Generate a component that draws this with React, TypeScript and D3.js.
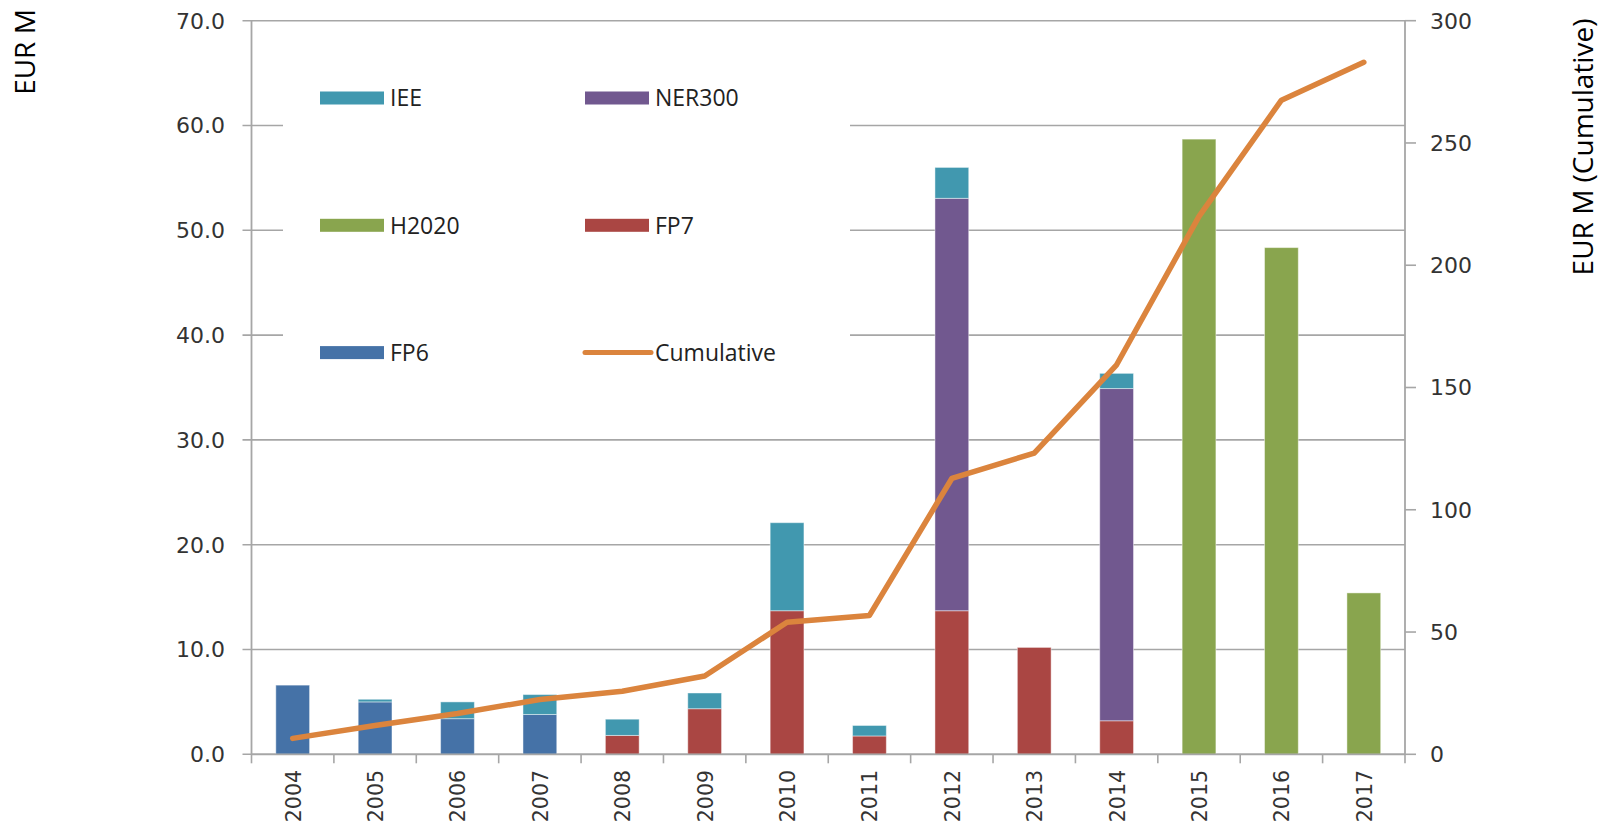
import React from "react";
import * as d3 from "d3";

// years on the category axis
const years = ["2004", "2005", "2006", "2007", "2008", "2009", "2010", "2011", "2012", "2013", "2014", "2015", "2016", "2017"];

// EUR M per programme
const fp6 = [6.6, 5.0, 3.4, 3.8, 0, 0, 0, 0, 0, 0, 0, 0, 0, 0];
const fp7 = [0, 0, 0, 0, 1.8, 4.35, 13.7, 1.75, 13.7, 10.2, 3.2, 0, 0, 0];
const h2020 = [0, 0, 0, 0, 0, 0, 0, 0, 0, 0, 0, 58.7, 48.35, 15.4];
const ner300 = [0, 0, 0, 0, 0, 0, 0, 0, 39.35, 0, 31.7, 0, 0, 0];
const iee = [0, 0.25, 1.6, 1.9, 1.55, 1.5, 8.4, 1.0, 2.95, 0, 1.45, 0, 0, 0];
const cumulative = [6.5, 11.8, 16.7, 22.4, 25.8, 32.0, 54.0, 56.8, 112.8, 123.2, 159.3, 220.0, 267.5, 283.0];

const leftTicks = [0, 10, 20, 30, 40, 50, 60, 70];
const rightTicks = [0, 50, 100, 150, 200, 250, 300];

const series = [
  { key: "FP6", values: fp6, color: "#4572a7" },
  { key: "FP7", values: fp7, color: "#aa4643" },
  { key: "H2020", values: h2020, color: "#89a54e" },
  { key: "NER300", values: ner300, color: "#71588f" },
  { key: "IEE", values: iee, color: "#4198af" },
];

const legendItems = [
  { label: "IEE", color: "#4198af", col: 0, row: 0 },
  { label: "NER300", color: "#71588f", col: 1, row: 0 },
  { label: "H2020", color: "#89a54e", col: 0, row: 1 },
  { label: "FP7", color: "#aa4643", col: 1, row: 1 },
  { label: "FP6", color: "#4572a7", col: 0, row: 2 },
  { label: "Cumulative", color: "#db843d", col: 1, row: 2, line: true },
];

const W = 1610;
const H = 826;
const left = 251.5;
const right = 1405;
const top = 20.7;
const bottom = 754.3;
const grid = "#a6a6a6";
const tickFont = "'DejaVu Sans', Verdana, sans-serif";
const textFont = "'Open Sans', 'Noto Sans', sans-serif";

export default function App() {
  const x = d3.scaleBand().domain(years).range([left, right]).paddingInner(0.59).paddingOuter(0.295);
  const step = x.step();
  const y = d3.scaleLinear().domain([0, 70]).range([bottom, top]);
  const yR = d3.scaleLinear().domain([0, 300]).range([bottom, top]);

  const rows = years.map((yr, i) => {
    const r: any = { year: yr };
    series.forEach((s) => (r[s.key] = s.values[i]));
    return r;
  });
  const stacked = d3.stack().keys(series.map((s) => s.key))(rows);

  const cx = (yr: string) => (x(yr) as number) + x.bandwidth() / 2;

  const line = d3
    .line<number>()
    .x((_, i) => cx(years[i]))
    .y((d) => yR(d));

  return (
    <svg width={W} height={H} style={{ position: "absolute", left: 0, top: 0, background: "#fff" }}>
      {/* gridlines */}
      {leftTicks.map((t) => (
        <line key={"g" + t} x1={left - 9} x2={right} y1={y(t)} y2={y(t)} stroke={grid} strokeWidth={1.6} />
      ))}

      {/* legend background hides the grid behind it */}
      <rect x={283} y={45} width={567} height={350} fill="#fff" />

      {/* stacked bars */}
      {stacked.map((layer, li) =>
        layer.map((d, i) =>
          d[1] - d[0] > 0 ? (
            <rect
              key={li + "-" + i}
              x={x(years[i])}
              y={y(d[1])}
              width={x.bandwidth()}
              height={y(d[0]) - y(d[1])}
              fill={series[li].color}
              stroke="#ffffff"
              strokeOpacity={0.45}
              strokeWidth={1}
            />
          ) : null
        )
      )}

      {/* cumulative line */}
      <path d={line(cumulative) || ""} fill="none" stroke="#db843d" strokeWidth={5.5} strokeLinejoin="round" strokeLinecap="round" />

      {/* axes */}
      <line x1={left} x2={left} y1={top} y2={bottom} stroke={grid} strokeWidth={1.8} />
      <line x1={right} x2={right} y1={top} y2={bottom} stroke={grid} strokeWidth={1.8} />
      <line x1={left} x2={right} y1={bottom} y2={bottom} stroke={grid} strokeWidth={1.8} />
      {d3.range(years.length + 1).map((i) => (
        <line key={"xt" + i} x1={left + i * step} x2={left + i * step} y1={bottom} y2={bottom + 9} stroke={grid} strokeWidth={1.6} />
      ))}
      {rightTicks.map((t) => (
        <line key={"rt" + t} x1={right} x2={right + 11} y1={yR(t)} y2={yR(t)} stroke={grid} strokeWidth={1.6} />
      ))}

      {/* tick labels */}
      {leftTicks.map((t) => (
        <text key={"lt" + t} x={225} y={y(t)} dy="0.36em" textAnchor="end" fontFamily={tickFont} fontSize={22} fill="#333">
          {t.toFixed(1)}
        </text>
      ))}
      {rightTicks.map((t) => (
        <text key={"rl" + t} x={1430} y={yR(t)} dy="0.36em" textAnchor="start" fontFamily={tickFont} fontSize={22} fill="#333">
          {t}
        </text>
      ))}
      {years.map((yr) => (
        <text
          key={"yl" + yr}
          transform={`translate(${cx(yr) + 8},${770}) rotate(-90)`}
          textAnchor="end"
          fontFamily={tickFont}
          fontSize={20.5}
          fill="#333"
        >
          {yr}
        </text>
      ))}

      {/* axis titles */}
      <text transform="translate(35,52) rotate(-90)" textAnchor="middle" fontFamily={textFont} fontSize={28} fill="#000">
        EUR M
      </text>
      <text transform="translate(1593,147) rotate(-90)" textAnchor="middle" fontFamily={textFont} fontSize={28} fill="#000">
        EUR M (Cumulative)
      </text>

      {/* legend */}
      {legendItems.map((d) => {
        const sx = d.col === 0 ? 320 : 585;
        const cy = 98 + d.row * 127.3;
        return (
          <g key={d.label}>
            {d.line ? (
              <line x1={sx} x2={sx + 66} y1={cy} y2={cy} stroke={d.color} strokeWidth={5} strokeLinecap="round" />
            ) : (
              <rect x={sx} y={cy - 6.5} width={64} height={13} fill={d.color} />
            )}
            <text x={sx + 70} y={cy} dy="0.36em" fontFamily={textFont} fontSize={23} fill="#222">
              {d.label}
            </text>
          </g>
        );
      })}
    </svg>
  );
}
